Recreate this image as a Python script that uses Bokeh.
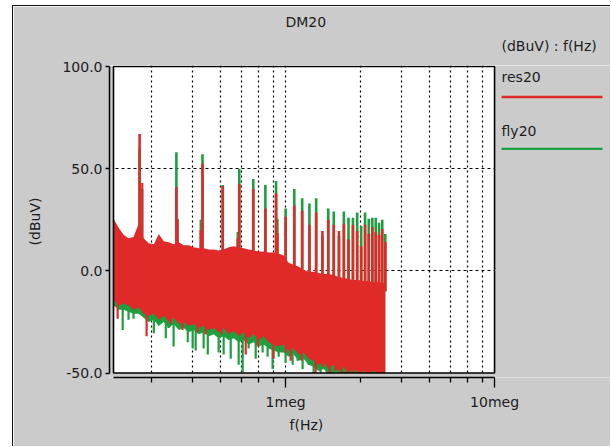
from bokeh.plotting import figure
from bokeh.models import FixedTicker, PrintfTickFormatter, Title
from bokeh.core.properties import value
from bokeh.embed import file_html
from bokeh.resources import INLINE

# ---------------- data ----------------
# envelope sample frequencies (kHz)
freq_khz = [150, 159, 168, 177, 187, 198, 209, 221, 234, 247,
            261, 276, 291, 308, 325, 344, 363, 384, 406, 429,
            453, 478, 505, 534, 564, 596, 630, 665, 703, 743,
            785, 829, 876, 926, 978, 1033, 1092, 1154, 1219, 1288,
            1361, 1438, 1520, 1606, 1697, 1793, 1894, 2000, 2115, 2234,
            2361, 2495, 2636, 2785, 2943, 3000]

# res20 noise band: upper / lower envelope (dBuV)
res_hi = [25.5, 21, 17.5, 16, 16.5, 23, 16, 13.5, 13, 18,
          14.5, 14, 13, 14, 12.5, 12.5, 11.5, 11, 11, 10.5,
          10.5, 10, 10.5, 11.5, 12, 11.5, 11, 10.5, 10, 9.5,
          9.5, 9, 9, 8.5, 7.5, 4, 3, 2, 0.5, -0.5,
          -0.5, -1, -1.5, -1.5, -2, -3, -3.5, -4, -4.5, -4.5,
          -5, -5, -5.5, -5.5, -6, -6]
res_lo = [-14, -17, -16, -17, -19, -18, -21, -22, -21, -24,
          -22, -25, -23, -26, -25, -27, -26, -28, -27, -29,
          -28, -30, -28, -31, -29, -32, -30, -33, -31, -34,
          -32, -35, -36, -37, -36, -39, -38, -41, -40, -43,
          -44, -46, -45, -48, -46, -49, -47, -50, -48, -50,
          -49, -50, -49, -50, -50, -50]

# fly20 noise band: upper / lower envelope (dBuV)
fly_hi = [22, 18, 15, 13, 13, 19, 13, 11, 10, 15,
          12, 11, 10, 11, 10, 10, 9, 8, 8, 8,
          8, 7, 8, 9, 9, 9, 8, 8, 7, 7,
          7, 6, 6, 6, 5, 1, 0, -1, -2, -3,
          -3, -4, -4, -4, -5, -6, -6, -7, -7, -7,
          -8, -8, -8, -8, -9, -9]
fly_lo = [-17, -19, -19, -20, -21, -21, -23, -25, -24, -27,
          -25, -28, -26, -29, -28, -30, -29, -31, -30, -32,
          -31, -33, -32, -34, -33, -35, -34, -36, -35, -37,
          -36, -38, -39, -40, -40, -42, -41, -44, -43, -46,
          -47, -49, -48, -50, -50, -50, -50, -50, -50, -50,
          -50, -50, -50, -50, -50, -50]

# deep narrow dips below the bands (kHz, dBuV)
fly_dip_khz = [166, 177, 187, 226, 234, 267, 275, 291, 340, 359,
               371, 405, 424, 478, 505, 546, 596, 623, 665, 719,
               776, 820, 866, 926, 1000, 1080, 1141, 1206, 1288, 1361,
               1470, 1571, 1660, 1774, 1916, 2046, 2186, 2336, 2496, 2666,
               2848]
fly_dip = [-29, -24, -23.5, -24, -30.5, -33, -28, -37, -35, -38,
           -39, -38, -41, -40, -41, -43, -46, -49.5, -38, -43,
           -40, -42, -48, -42, -45, -46, -44, -48, -46, -50,
           -50, -50, -50, -50, -50, -50, -50, -50, -50, -50,
           -50]
res_dip_khz = [157, 216, 282, 321, 379, 414, 494, 564, 644, 735,
               876, 1000, 1057, 1193, 1392, 1503, 1624, 1735, 1853, 1980,
               2115, 2260, 2414, 2579, 2755, 2943]
res_dip = [-23.5, -32, -26, -29, -30, -31, -31, -30, -41, -37,
           -43, -40, -44, -44, -50, -47, -50, -49, -50, -50,
           -50, -50, -50, -50, -50, -50]

# harmonic spikes (kHz) and their peaks (dBuV)
harm_khz = [200, 300, 400, 500, 600, 700, 800, 900, 1000, 1100,
            1200, 1300, 1400, 1500, 1600, 1700, 1800, 1900, 2000, 2100,
            2200, 2300, 2400, 2500, 2600, 2700, 2800, 2900, 3000]
res_pk = [67, 41, 52.5, 41.5, 42.5, 40, 30.5, 38, 26.5, 32,
          29.5, 22.5, 28.5, 19.5, 25, 22.5, 19.5, 23, 15.5, 22.5,
          19.5, 12, 22.5, 18, 21.5, 19, 17.5, 20.5, 14]
fly_pk = [60, 58, 57, 42, 50, 45, 42, 44, 30.5, 40,
          35.5, 33, 35.5, 17, 30.5, 29, 17, 29, 26, 26,
          28.5, 22, 28.5, 25.5, 26, 26, 23.5, 25, 18]

# smaller side spikes
side_khz = [206, 304, 392, 589, 915]
res_side = [43, 25, 20, 16, 18.5]
fly_side = [40, 25.5, 25, 19, 25.5]

# axis ticks
x_major = [1e6, 1e7]
x_major_labels = {1000000: "1meg", 10000000: "10meg"}
x_minor = [228571, 357143, 485714, 614286, 742857, 871429,
           2285714, 3571429, 4857143, 6142857, 7428571, 8714286]
y_major = [-50, 0, 50, 100]
y_grid = [0, 50]

series_names = ["res20", "fly20"]

# ---------------- styling / layout ----------------
# canvas starts at page (13, 6): 12px left margin + 1px border, 5px top margin + 1px border
W, H = 598, 441
FONT = "DejaVu Sans"
FS = "14px"
TXT = "#1c1c1c"
BG = "#cbcbcb"
RED = "#e02a2a"
GREEN = "#1f9e40"

X_LO, X_HI = 150e3, 10e6
Y_LO, Y_HI = -50.0, 100.0
PX_DEC = 209.0               # pixels per decade
PX_DB = 306.5 / 150.0        # pixels per dB
BOX_RIGHT_PX, BOX_TOP_PX = 494, 66   # page pixel of 10 MHz / 100 dB
FRAME_RIGHT_PX = 611

x_start = X_LO / 10 ** (4 / PX_DEC)
x_end = X_HI * 10 ** ((FRAME_RIGHT_PX - BOX_RIGHT_PX) / PX_DEC)
y_start = Y_LO - 4.5 / PX_DB
y_end = Y_HI + 1 / PX_DB


def fx(px):   # page pixel -> frequency (for legend placement)
    return X_HI * 10 ** ((px - BOX_RIGHT_PX) / PX_DEC)


def fy(py):   # page pixel -> dB (for legend placement)
    return Y_HI - (py - BOX_TOP_PX) / PX_DB


p = figure(width=W, height=H, x_axis_type="log",
           x_range=(x_start, x_end), y_range=(y_start, y_end),
           output_backend="svg", toolbar_location=None,
           min_border_left=96, min_border_right=0,
           min_border_top=59, min_border_bottom=70)
p.styles = {"margin-left": "12px", "margin-top": "5px",
            "border-left": "1px solid #111", "border-top": "1px solid #111"}
p.background_fill_color = "white"
p.border_fill_color = BG
p.outline_line_color = None

# grid
p.xgrid.ticker = FixedTicker(ticks=x_minor + [1e6])
p.xgrid.grid_line_color = "black"
p.xgrid.grid_line_dash = "2 3"
p.xgrid.grid_line_width = 1.2
p.ygrid.ticker = FixedTicker(ticks=y_grid)
p.ygrid.grid_line_color = "black"
p.ygrid.grid_line_dash = "3 3"
p.ygrid.grid_line_width = 1.2

# gray areas of the frame outside the plot box
p.quad(left=[x_start], right=[X_LO], bottom=[y_start], top=[y_end],
       fill_color=BG, line_color=None)
p.quad(left=[x_start], right=[x_end], bottom=[y_start], top=[Y_LO],
       fill_color=BG, line_color=None)
p.quad(left=[X_HI], right=[x_end], bottom=[y_start], top=[y_end],
       fill_color=BG, line_color=None)

f_env = [k * 1e3 for k in freq_khz]
f_h = [k * 1e3 for k in harm_khz]
f_s = [k * 1e3 for k in side_khz]
f_fd = [k * 1e3 for k in fly_dip_khz]
f_rd = [k * 1e3 for k in res_dip_khz]

# fly20 (behind)
p.varea(x=f_env, y1=fly_lo, y2=fly_hi, fill_color=GREEN)
p.segment(x0=f_fd, x1=f_fd, y0=[-10] * len(f_fd), y1=fly_dip,
          line_color=GREEN, line_width=2.2, line_cap="butt")
p.segment(x0=f_h, x1=f_h, y0=[-10] * len(f_h), y1=fly_pk,
          line_color=GREEN, line_width=2.6, line_cap="butt")
p.segment(x0=f_s, x1=f_s, y0=[-10] * len(f_s), y1=fly_side,
          line_color=GREEN, line_width=2.2, line_cap="butt")
# res20 (front)
p.varea(x=f_env, y1=res_lo, y2=res_hi, fill_color=RED)
p.segment(x0=f_rd, x1=f_rd, y0=[-10] * len(f_rd), y1=res_dip,
          line_color=RED, line_width=2.2, line_cap="butt")
p.segment(x0=f_h, x1=f_h, y0=[-10] * len(f_h), y1=res_pk,
          line_color=RED, line_width=2.6, line_cap="butt")
p.segment(x0=f_s, x1=f_s, y0=[-10] * len(f_s), y1=res_side,
          line_color=RED, line_width=2.2, line_cap="butt")

# plot box outline
p.quad(left=[X_LO], right=[X_HI], bottom=[Y_LO], top=[Y_HI],
       fill_color=None, line_color="black", line_width=1.6)

# legend (right of the plot box)
p.text(x=[fx(501), fx(501)], y=[fy(76), fy(130)], text=series_names,
       text_font=value(FONT), text_font_size=value(FS), text_color=TXT,
       text_align="left", text_baseline="middle")
p.segment(x0=[fx(501)], x1=[fx(602)], y0=[fy(96.5)], y1=[fy(96.5)],
          line_color=RED, line_width=2.3)
p.segment(x0=[fx(501)], x1=[fx(602)], y0=[fy(148.3)], y1=[fy(148.3)],
          line_color=GREEN, line_width=2.3)

# axes
xa = p.xaxis[0]
xa.ticker = FixedTicker(ticks=x_major, minor_ticks=x_minor)
xa.major_label_overrides = x_major_labels
xa.bounds = (X_LO, X_HI)
ya = p.yaxis[0]
ya.ticker = FixedTicker(ticks=y_major)
ya.formatter = PrintfTickFormatter(format="%.1f")
ya.bounds = (Y_LO, Y_HI)
for ax in (xa, ya):
    ax.axis_line_color = "black"
    ax.axis_line_width = 1.5
    ax.major_tick_line_color = "black"
    ax.major_tick_line_width = 1.3
    ax.minor_tick_line_color = "black"
    ax.minor_tick_line_width = 1.3
    ax.major_tick_in = 0
    ax.minor_tick_in = 0
    ax.major_label_text_font = FONT
    ax.major_label_text_font_size = FS
    ax.major_label_text_color = TXT
    ax.axis_label_text_font = FONT
    ax.axis_label_text_font_size = FS
    ax.axis_label_text_color = TXT
    ax.axis_label_text_font_style = "normal"
xa.major_tick_out = 10
xa.minor_tick_out = 5
xa.major_label_standoff = 6
ya.major_tick_out = 4
ya.minor_tick_line_color = None
ya.major_label_standoff = 3
ya.axis_label = "(dBuV)"
ya.axis_label_standoff = 16

# titles (offsets relative to the frame's left edge at page x=109)
p.title.text = "DM20"
p.title.align = "left"
p.title.offset = 176
p.title.standoff = -11
p.title.text_font = FONT
p.title.text_font_size = FS
p.title.text_font_style = "normal"
p.title.text_color = TXT
p.add_layout(Title(text="(dBuV) : f(Hz)", align="left", offset=392,
                   standoff=23, text_font=FONT, text_font_size=FS,
                   text_font_style="normal", text_color=TXT), "above")
p.add_layout(Title(text="f(Hz)", align="left", offset=180, standoff=5,
                   text_font=FONT, text_font_size=FS,
                   text_font_style="normal", text_color=TXT), "below")

open("out.html", "w").write(file_html(p, INLINE))
